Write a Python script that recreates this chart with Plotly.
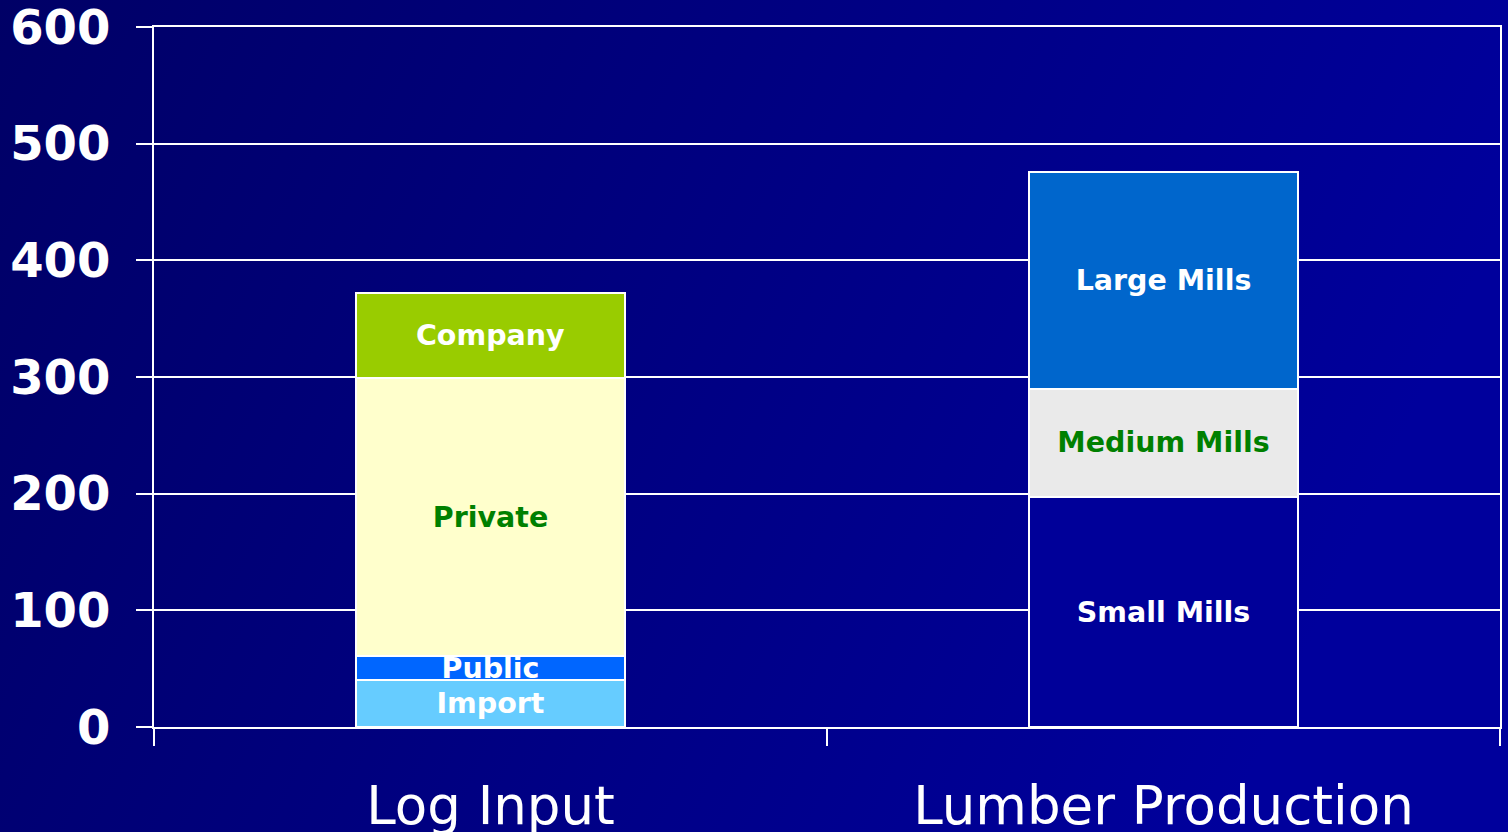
import base64
import plotly.graph_objects as go

categories = ["Log Input", "Lumber Production"]

log_segments = ["Import", "Public", "Private", "Company"]
log_values = [40, 21, 238, 73]
log_colors = ["#66CCFF", "#0066FF", "#FFFFCC", "#99CC00"]
log_text_colors = ["white", "white", "#008000", "white"]

mill_segments = ["Small Mills", "Medium Mills", "Large Mills"]
mill_values = [197, 93, 186]
mill_colors = ["#000099", "#EAEAEA", "#0066CC"]
mill_text_colors = ["white", "#008000", "white"]

y_ticks = [0, 100, 200, 300, 400, 500, 600]

fig = go.Figure()

def add_segment(cat, name, val, color, tcolor):
    fig.add_trace(go.Bar(
        x=[cat], y=[val], name=name,
        marker=dict(color=color, line=dict(color="white", width=2)),
        text=[name], textposition="inside", insidetextanchor="middle",
        textangle=0, constraintext="none",
        insidetextfont=dict(family="DejaVu Sans", size=28.5, color=tcolor, weight="bold"),
        hoverinfo="skip", showlegend=False,
    ))

for n, v, c, t in zip(log_segments, log_values, log_colors, log_text_colors):
    add_segment(categories[0], n, v, c, t)
for n, v, c, t in zip(mill_segments, mill_values, mill_colors, mill_text_colors):
    add_segment(categories[1], n, v, c, t)

svg = ('<svg xmlns="http://www.w3.org/2000/svg" width="1508" height="832" viewBox="0 0 1508 832" '
       'preserveAspectRatio="none"><defs><linearGradient id="g" x1="0" y1="0" x2="1" y2="0.25">'
       '<stop offset="0" stop-color="#000066"/><stop offset="1" stop-color="#00009C"/>'
       '</linearGradient></defs><rect width="1508" height="832" fill="url(#g)"/></svg>')
src = "data:image/svg+xml;base64," + base64.b64encode(svg.encode()).decode()

W, H = 1508, 832
ml, mr, mt, mb = 154, 8, 27, 105
pw, ph = W - ml - mr, H - mt - mb

fig.update_layout(
    width=W, height=H,
    margin=dict(l=ml, r=mr, t=mt, b=mb, autoexpand=False),
    barmode="stack", bargap=0.6,
    paper_bgcolor="#00007F", plot_bgcolor="rgba(0,0,0,0)",
    images=[dict(source=src, xref="paper", yref="paper",
                 x=-ml / pw, y=1 + mt / ph, sizex=W / pw, sizey=H / ph,
                 xanchor="left", yanchor="top", sizing="stretch", layer="below")],
    xaxis=dict(
        type="category", categoryorder="array", categoryarray=categories,
        showgrid=False, showline=True, linecolor="white", linewidth=2, mirror=True,
        ticks="outside", tickson="boundaries", ticklen=17, tickwidth=2, tickcolor="white",
        tickfont=dict(family="DejaVu Sans", size=53, color="white"),
        ticklabelstandoff=31, automargin=False, ticklabeloverflow="allow",
    ),
    yaxis=dict(
        range=[0, 600], tickvals=y_ticks, ticktext=[str(v) for v in y_ticks],
        showgrid=True, gridcolor="white", gridwidth=2,
        showline=True, linecolor="white", linewidth=2, mirror=True,
        ticks="outside", ticklen=16, tickwidth=2, tickcolor="white",
        tickfont=dict(family="DejaVu Sans", size=48, color="white", weight="bold"),
        ticklabelstandoff=16, zeroline=False, automargin=False, ticklabeloverflow="allow",
    ),
)

fig.write_html("out.html", config={"displayModeBar": False},
               post_script="document.body.style.margin='0';document.body.style.overflow='hidden';")
